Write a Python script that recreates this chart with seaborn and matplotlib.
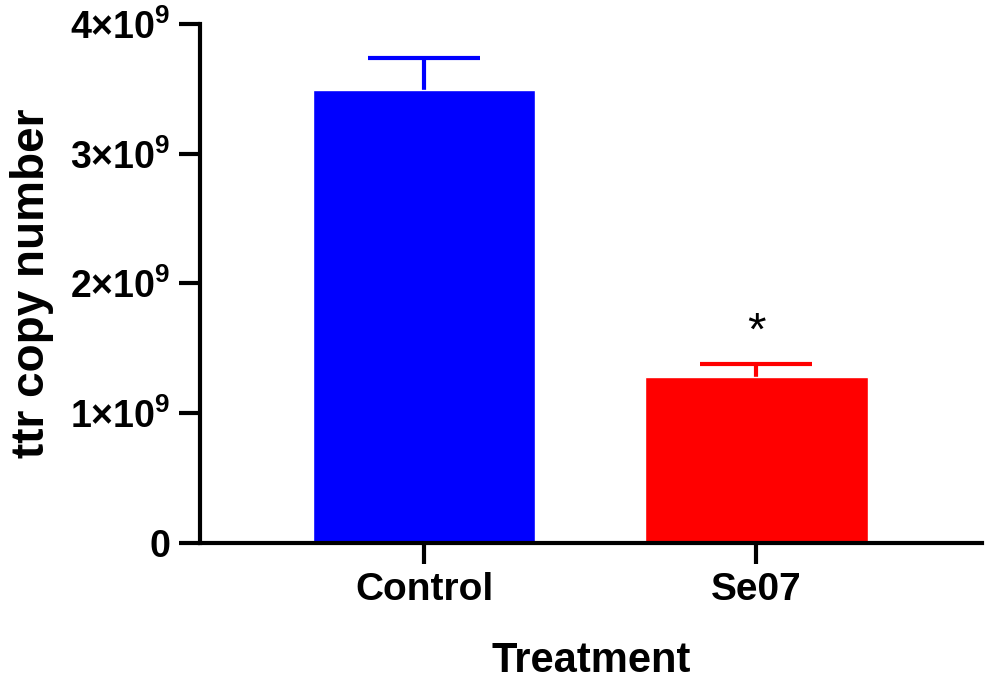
import numpy as np
import pandas as pd
import matplotlib
matplotlib.use("Agg")
import matplotlib.pyplot as plt
import seaborn as sns

# values (copies per sample)
groups = ["Control", "Se07"]
means = [3.49e9, 1.28e9]
sems = [0.25e9, 0.10e9]
bar_colors = ["#0000FF", "#FF0000"]
yticks = [0, 1e9, 2e9, 3e9, 4e9]
ytick_labels = ["0"] + [r"$\mathbf{%d{\times}10^{9}}$" % k for k in range(1, 5)]
sig_marks = ["", "*"]

sns.set_style("ticks")
plt.rcParams["font.family"] = ["Liberation Sans", "DejaVu Sans"]
plt.rcParams["font.weight"] = "bold"
plt.rcParams["mathtext.fontset"] = "custom"
plt.rcParams["mathtext.bf"] = "Liberation Sans:bold"
plt.rcParams["mathtext.rm"] = "Liberation Sans:bold"
plt.rcParams["text.color"] = "black"
plt.rcParams["axes.labelcolor"] = "black"
plt.rcParams["axes.edgecolor"] = "black"

df = pd.DataFrame({"Treatment": groups, "copies": means})

fig = plt.figure(figsize=(9.9, 6.94), dpi=100)
ax = fig.add_axes([0.202, 0.2176, 0.79, 0.7478])

sns.barplot(data=df, x="Treatment", y="copies", hue="Treatment",
            palette=bar_colors, errorbar=None, width=0.67, saturation=1,
            legend=False, ax=ax, zorder=2)

# upward-only SEM bars, GraphPad style
for i, (m, s, c) in enumerate(zip(means, sems, bar_colors)):
    _, caps, _ = ax.errorbar(i, m, yerr=[[0], [s]], fmt="none", ecolor=c,
                             elinewidth=3, capsize=40, capthick=3, zorder=1)
    caps[0].set_visible(False)
    if sig_marks[i]:
        ax.text(i, m + s + 0.24e9, sig_marks[i], ha="center", va="center",
                fontsize=34, fontweight="normal", color="black")

ax.set_ylim(0, 4e9)
ax.set_xlim(-0.675, 1.68)
ax.set_yticks(yticks)
ax.set_yticklabels(ytick_labels)

sns.despine(ax=ax)
for side in ["left", "bottom"]:
    ax.spines[side].set_linewidth(3)
    ax.spines[side].set_color("black")
ax.tick_params(axis="both", width=3, length=15, pad=6, labelsize=27,
               color="black", labelcolor="black")
ax.tick_params(axis="x", labelsize=28)
for lab in ax.get_xticklabels() + ax.get_yticklabels():
    lab.set_fontweight("bold")

ax.set_xlabel("Treatment", fontsize=30, fontweight="bold", labelpad=24)
ax.set_ylabel("ttr copy number", fontsize=33, fontweight="bold", labelpad=12)

fig.savefig("out.png", dpi=100)
